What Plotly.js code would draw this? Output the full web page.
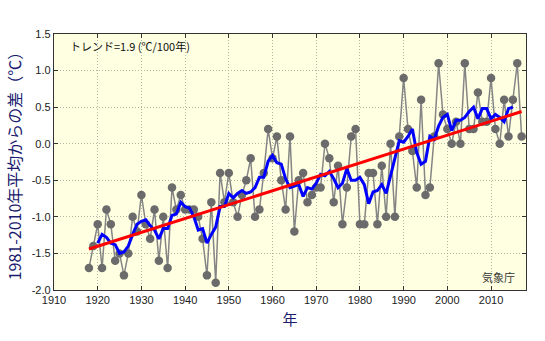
<!DOCTYPE html>
<html>
<head>
<meta charset="utf-8">
<script src="https://cdn.plot.ly/plotly-3.0.1.min.js"></script>
<style>html,body{margin:0;padding:0;background:#fff;}#chart{width:545px;height:341px;}</style>
</head>
<body>
<div id="chart"></div>
<script>
// Annual anomaly (°C), years 1918-2017
const years = [];
for (let y = 1918; y <= 2017; y++) years.push(y);
const anomaly = [
  -1.7, -1.4, -1.1, -1.7, -0.9, -1.1, -1.6, -1.5, -1.8, -1.5,
  -1.0, -1.2, -0.7, -1.1, -1.3, -0.9, -1.6, -1.0, -1.7, -0.6,
  -0.9, -0.7, -0.9, -0.9, -0.9, -1.0, -1.3, -1.8, -0.8, -1.9,
  -0.4, -0.8, -0.4, -0.8, -1.0, -0.7, -0.5, -0.2, -1.0, -0.9,
  -0.4, 0.2, -0.2, 0.1, -0.5, -0.9, 0.1, -1.2, -0.5, -0.4,
  -0.8, -0.7, -0.6, -0.6, 0.0, -0.2, -0.8, -0.3, -1.1, -0.6,
  0.1, 0.2, -1.1, -1.1, -0.4, -0.4, -1.1, -0.3, -1.0, 0.0,
  -1.0, 0.1, 0.9, 0.2, -0.1, -0.6, 0.6, -0.7, -0.6, 0.1,
  1.1, 0.4, 0.2, 0.0, 0.3, 0.0, 1.1, 0.2, 0.2, 0.7,
  0.3, 0.3, 0.9, 0.2, 0.0, 0.6, 0.1, 0.6, 1.1, 0.1
];
// 5-year running mean (blue), years 1920-2015
const smoothYears = [];
for (let y = 1920; y <= 2015; y++) smoothYears.push(y);
const smooth = [
  -1.36, -1.24, -1.28, -1.36, -1.38, -1.50, -1.48, -1.40, -1.24, -1.10,
  -1.06, -1.04, -1.12, -1.18, -1.30, -1.16, -1.16, -0.98, -0.96, -0.80,
  -0.86, -0.88, -1.00, -1.18, -1.16, -1.36, -1.24, -1.14, -0.86, -0.86,
  -0.68, -0.74, -0.68, -0.64, -0.68, -0.66, -0.60, -0.46, -0.46, -0.24,
  -0.16, -0.26, -0.28, -0.48, -0.60, -0.58, -0.56, -0.72, -0.60, -0.62,
  -0.54, -0.42, -0.44, -0.38, -0.48, -0.60, -0.54, -0.34, -0.50, -0.50,
  -0.46, -0.56, -0.82, -0.66, -0.64, -0.56, -0.68, -0.44, -0.20, 0.04,
  0.02, 0.10, 0.20, -0.12, -0.28, -0.24, 0.10, 0.06, 0.24, 0.36,
  0.40, 0.18, 0.32, 0.32, 0.36, 0.44, 0.50, 0.34, 0.48, 0.48,
  0.34, 0.40, 0.36, 0.30, 0.48, 0.50
];
// Long-term trend line endpoints (red)
const trendYears = [1918, 2017];
const trendValues = [-1.44, 0.44];

const yTickVals = [-2.0, -1.5, -1.0, -0.5, 0.0, 0.5, 1.0, 1.5];
const yTickText = ["-2.0", "-1.5", "-1.0", "-0.5", "0.0", "0.5", "1.0", "1.5"];
const xTickVals = [1910, 1920, 1930, 1940, 1950, 1960, 1970, 1980, 1990, 2000, 2010];

const traces = [
  {
    x: years, y: anomaly, type: 'scatter', mode: 'lines+markers',
    line: {color: '#858585', width: 1.5},
    marker: {color: '#6b6b6b', size: 8.5},
    hoverinfo: 'skip'
  },
  {
    x: smoothYears, y: smooth, type: 'scatter', mode: 'lines',
    line: {color: '#0000ff', width: 3},
    hoverinfo: 'skip'
  },
  {
    x: trendYears, y: trendValues, type: 'scatter', mode: 'lines',
    line: {color: '#ff0000', width: 3},
    hoverinfo: 'skip'
  }
];

const jp = '"Noto Sans CJK JP", "Noto Sans", sans-serif';
const layout = {
  width: 545, height: 341,
  margin: {l: 54, r: 19, t: 34, b: 51},
  paper_bgcolor: '#ffffff',
  plot_bgcolor: '#ffffe2',
  showlegend: false,
  font: {family: '"Liberation Sans", Arial, sans-serif', size: 11, color: '#222'},
  xaxis: {
    range: [1910, 2018], tickvals: xTickVals, ticks: 'inside', ticklen: 4,
    tickcolor: '#333', showline: true, linecolor: '#333', linewidth: 1.2, mirror: 'ticks',
    showgrid: true, gridcolor: '#b5b5a5', griddash: '1px,2px', gridwidth: 1,
    zeroline: false, tickfont: {size: 11, color: '#222'},
    title: {text: '年', font: {family: jp, size: 15, color: '#1a1a6e'}, standoff: 9}
  },
  yaxis: {
    range: [-2.0, 1.5], tickvals: yTickVals, ticktext: yTickText, ticks: 'inside', ticklen: 4,
    tickcolor: '#333', showline: true, linecolor: '#333', linewidth: 1.2, mirror: 'ticks',
    showgrid: true, gridcolor: '#b5b5a5', griddash: '1px,2px', gridwidth: 1,
    zeroline: false, tickfont: {size: 11, color: '#222'},
    title: {text: '1981-2010年平均からの差（℃）', font: {family: jp, size: 16, color: '#1a1a6e'}, standoff: 6}
  },
  annotations: [
    {xref: 'paper', yref: 'paper', x: 0.03, y: 0.955, xanchor: 'left', yanchor: 'middle',
     text: 'トレンド=1.9 (℃/100年)', showarrow: false,
     font: {family: jp, size: 11, color: '#111'}},
    {xref: 'paper', yref: 'paper', x: 0.98, y: 0.05, xanchor: 'right', yanchor: 'middle',
     text: '気象庁', showarrow: false,
     font: {family: jp, size: 11, color: '#333'}}
  ]
};

Plotly.newPlot('chart', traces, layout, {displayModeBar: false, staticPlot: true});
</script>
</body>
</html>
